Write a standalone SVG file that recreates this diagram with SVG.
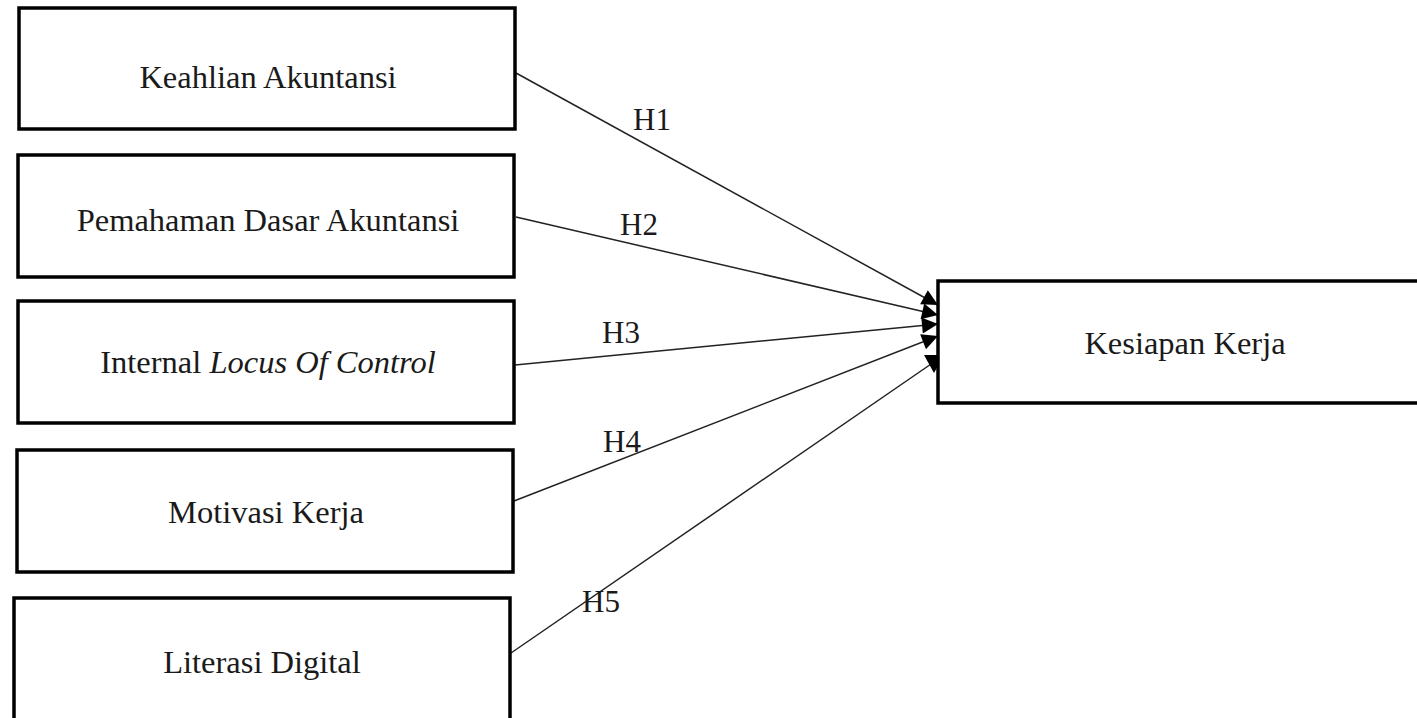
<svg xmlns="http://www.w3.org/2000/svg" width="1417" height="718" viewBox="0 0 1417 718">
<defs>
<style>
.box{fill:#fff;stroke:#000;stroke-width:3.5}
.t{font-family:"Liberation Serif","Times New Roman",serif;font-size:32.5px;fill:#1a1a1a;text-anchor:middle}
.lbl{font-family:"Liberation Serif","Times New Roman",serif;font-size:31px;fill:#1a1a1a}
.edge{stroke:#222;stroke-width:1.5;fill:none}
</style>
<marker id="arr" viewBox="0 0 10 10" refX="10" refY="5" markerUnits="userSpaceOnUse" markerWidth="18" markerHeight="16" orient="auto">
<path d="M0,0 L10,5 L0,10 Z" fill="#000"/>
</marker>
</defs>
<rect width="1417" height="718" fill="#fff"/>
<g id="connectors">
<line class="edge" x1="516" y1="73" x2="938" y2="305" marker-end="url(#arr)"/>
<line class="edge" x1="516" y1="217" x2="938" y2="315" marker-end="url(#arr)"/>
<line class="edge" x1="515" y1="365" x2="938" y2="324" marker-end="url(#arr)"/>
<line class="edge" x1="514" y1="501" x2="938" y2="336" marker-end="url(#arr)"/>
<line class="edge" x1="511" y1="653" x2="934" y2="362"/>
<polygon points="924,355 944,355 934,373" fill="#000"/>
<text class="lbl" x="633" y="130">H1</text>
<text class="lbl" x="620" y="235">H2</text>
<text class="lbl" x="602" y="343">H3</text>
<text class="lbl" x="603" y="452">H4</text>
<text class="lbl" x="582" y="612">H5</text>
</g>
<g id="n1"><rect class="box" x="19" y="8" width="496" height="121"/><text class="t" x="268" y="88">Keahlian Akuntansi</text></g>
<g id="n2"><rect class="box" x="18" y="155" width="496" height="122"/><text class="t" x="268" y="231">Pemahaman Dasar Akuntansi</text></g>
<g id="n3"><rect class="box" x="18" y="301" width="496" height="122"/><text class="t" x="268" y="373">Internal <tspan font-style="italic">Locus Of Control</tspan></text></g>
<g id="n4"><rect class="box" x="17" y="450" width="496" height="122"/><text class="t" x="266" y="523">Motivasi Kerja</text></g>
<g id="n5"><rect class="box" x="14" y="598" width="496" height="130"/><text class="t" x="262" y="673">Literasi Digital</text></g>
<g id="n6"><rect class="box" x="938" y="281" width="490" height="122"/><text class="t" x="1185" y="354">Kesiapan Kerja</text></g>
</svg>
